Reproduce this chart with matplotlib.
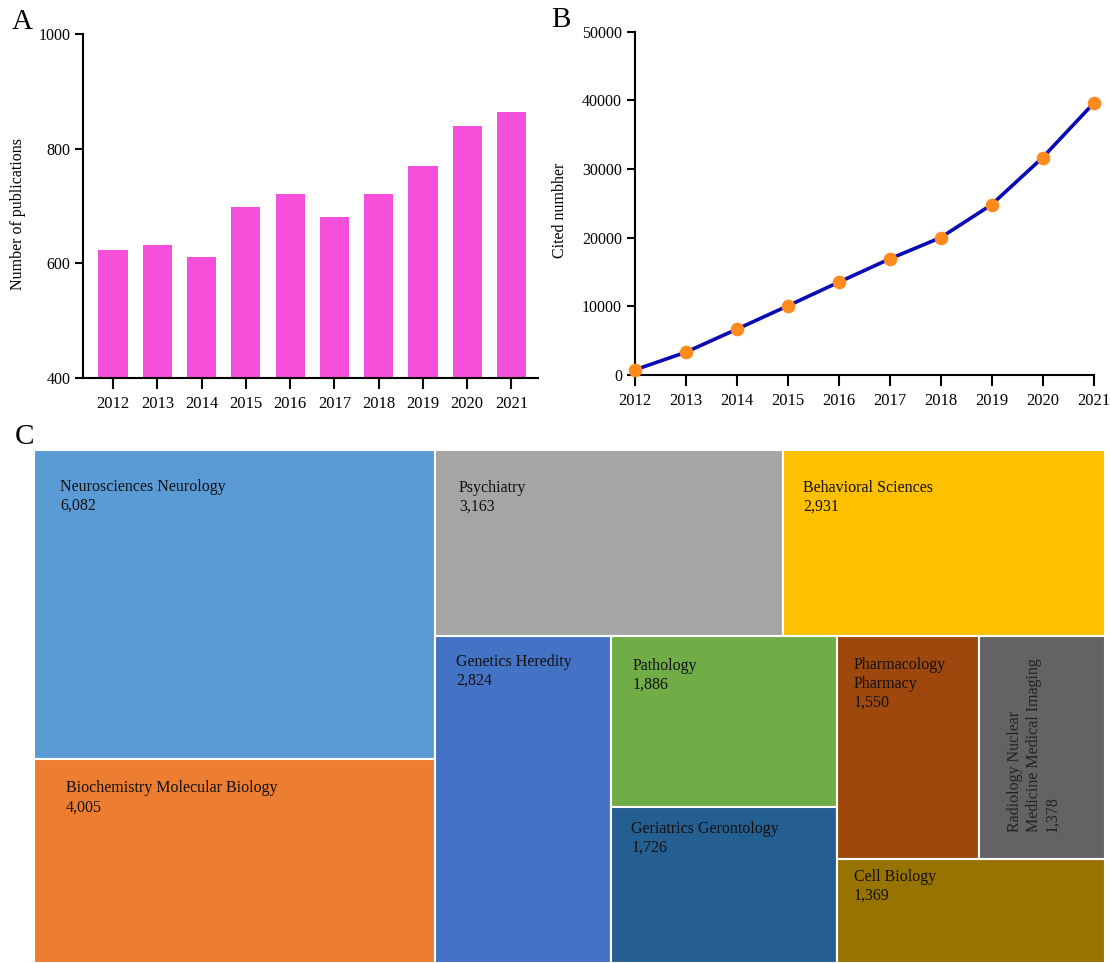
import numpy as np
import matplotlib
matplotlib.use("Agg")
import matplotlib.pyplot as plt
from matplotlib.patches import Rectangle

plt.rcParams['font.family'] = ['Liberation Serif', 'DejaVu Serif']

# -- Data
years = [2012, 2013, 2014, 2015, 2016, 2017, 2018, 2019, 2020, 2021]
publications = [623, 632, 611, 698, 721, 681, 722, 770, 840, 864]
citations = [730, 3300, 6650, 10050, 13500, 16900, 20000, 24800, 31650, 39560]

categories = ['Neurosciences Neurology', 'Biochemistry Molecular Biology',
              'Psychiatry', 'Behavioral Sciences', 'Genetics Heredity',
              'Pathology', 'Geriatrics Gerontology', 'Pharmacology\nPharmacy',
              'Radiology Nuclear\nMedicine Medical Imaging', 'Cell Biology']
counts = [6082, 4005, 3163, 2931, 2824, 1886, 1726, 1550, 1378, 1369]

# -- Styles
cell_colors = ['#5B9BD5', '#ED7D31', '#A5A5A5', '#FFC000', '#4472C4',
               '#70AD47', '#255E91', '#9E480E', '#636363', '#997300']
# strips of the treemap: (number of cells, direction)
strips = [(2, 'col'), (2, 'row'), (1, 'col'), (2, 'col'), (2, 'row'), (1, 'row')]
# label offset from the cell's top-left corner, in pixels (x, y of first line)
label_pad = [(27, 38), (32, 30), (24, 39), (20, 39), (21, 27),
             (21, 31), (20, 23), (17, 30), (28, 24), (17, 19)]

fig = plt.figure(figsize=(11.1, 9.63), dpi=100)
W, H = 1110, 963


def axes_px(left, top, right, bottom):
    return fig.add_axes([left / W, 1 - bottom / H, (right - left) / W, (bottom - top) / H])


def style_axis(ax):
    for s in ['top', 'right']:
        ax.spines[s].set_visible(False)
    for s in ['left', 'bottom']:
        ax.spines[s].set_linewidth(1.5)
    ax.tick_params(axis='x', direction='out', length=8, width=1.5, labelsize=12, pad=5)
    ax.tick_params(axis='y', direction='out', length=6, width=1.5, labelsize=11.5, pad=3)


# ---------------- A: publications per year
axA = axes_px(83, 34.5, 538, 377.7)
x = np.arange(len(years))
axA.bar(x, publications, width=0.66, color='#F650DA', zorder=2)
axA.set_ylim(400, 1000)
axA.set_yticks([400, 600, 800, 1000])
axA.set_xlim(-0.68, 9.6)
axA.set_xticks(x)
axA.set_xticklabels([str(y) for y in years])
axA.set_ylabel('Number of publications', fontsize=11.5)
axA.yaxis.set_label_coords(-0.125, 0.478)
style_axis(axA)
fig.text(22 / W, 1 - 22 / H, 'A', fontsize=21, ha='center', va='center')

# ---------------- B: citations per year
axB = axes_px(634.5, 31.7, 1093.5, 375)
axB.plot(years, citations, color='#0A0AB4', lw=2.6, zorder=2, clip_on=False)
axB.plot(years, citations, 'o', color='#FF8A1E', ms=8.8, zorder=3, clip_on=False)
axB.set_xlim(2012, 2021)
axB.set_xticks(years)
axB.set_ylim(0, 50000)
axB.set_yticks(range(0, 50001, 10000))
axB.set_ylabel('Cited numbher', fontsize=11.5)
axB.yaxis.set_label_coords(-0.145, 0.48)
style_axis(axB)
fig.text(561 / W, 1 - 20 / H, 'B', fontsize=21, ha='center', va='center')

# ---------------- C: treemap of research areas
axC = axes_px(33.5, 450, 1105, 963)
axC.set_xlim(0, 1)
axC.set_ylim(1, 0)
axC.axis('off')
fig.text(25 / W, 1 - 437 / H, 'C', fontsize=21, ha='center', va='center')

rects = []
rx, ry, rw, rh = 0.0, 0.0, 1.0, 1.0
i = 0
remaining = float(sum(counts))
for n, direction in strips:
    grp = counts[i:i + n]
    frac = sum(grp) / remaining
    if direction == 'col':
        sw = rw * frac
        yy = ry
        for v in grp:
            hh = rh * v / sum(grp)
            rects.append((rx, yy, sw, hh))
            yy += hh
        rx += sw
        rw -= sw
    else:
        sh = rh * frac
        xx = rx
        for v in grp:
            ww = rw * v / sum(grp)
            rects.append((xx, ry, ww, sh))
            xx += ww
        ry += sh
        rh -= sh
    remaining -= sum(grp)
    i += n

for k, (cx, cy, cw, ch) in enumerate(rects):
    axC.add_patch(Rectangle((cx, cy), cw, ch, facecolor=cell_colors[k],
                            edgecolor='white', lw=1.5))
    dx, dy = label_pad[k]
    label = categories[k] + '\n' + f'{counts[k]:,}'
    if categories[k].startswith('Radiology'):
        # vertical label, reading bottom to top
        axC.annotate(label, xy=(cx, cy + ch), xytext=(dx * 0.72, dy * 0.72 + 2),
                     textcoords='offset points', rotation=90, rotation_mode='anchor',
                     ha='left', va='top', fontsize=11.5, color='#222222',
                     linespacing=1.25)
    else:
        axC.annotate(label, xy=(cx, cy), xytext=(dx * 0.72, -(dy - 9) * 0.72),
                     textcoords='offset points', ha='left', va='top',
                     fontsize=11.5, color='#111111', linespacing=1.25)

plt.savefig('out.png', dpi=100)
